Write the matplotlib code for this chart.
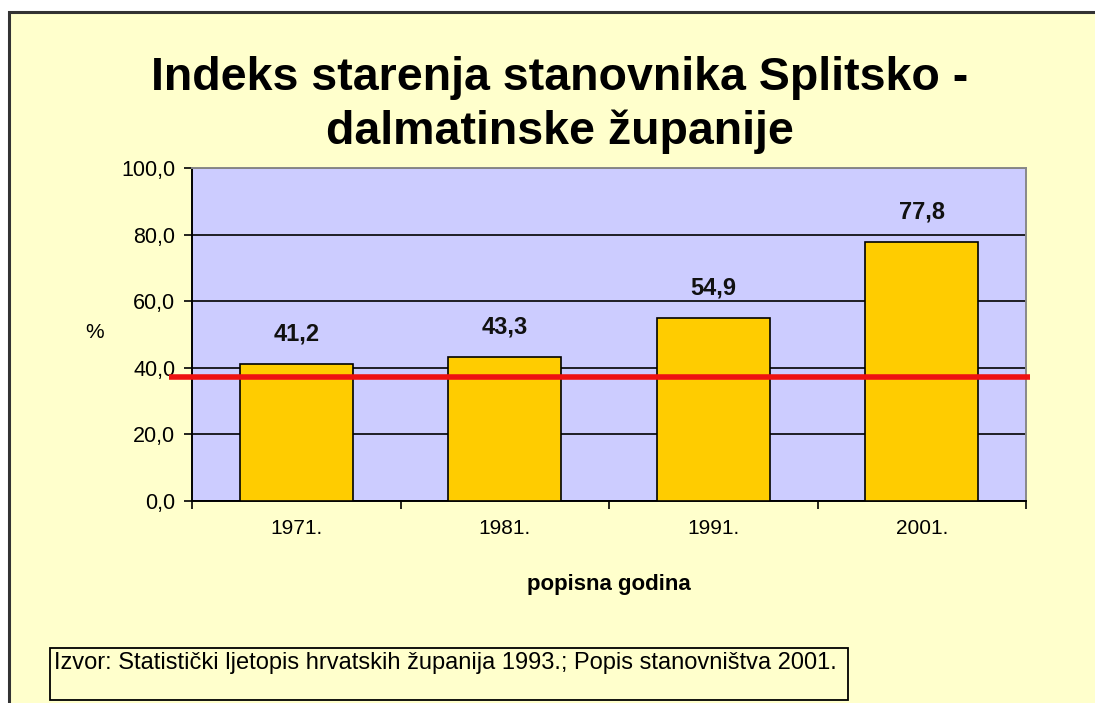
import matplotlib.pyplot as plt
from matplotlib.patches import Rectangle
from matplotlib.ticker import FixedLocator, FuncFormatter

# data
years = ["1971.", "1981.", "1991.", "2001."]
index_values = [41.2, 43.3, 54.9, 77.8]
reference_level = 37.2
y_ticks = [0, 20, 40, 60, 80, 100]

title = "Indeks starenja stanovnika Splitsko -\ndalmatinske županije"
source = "Izvor: Statistički ljetopis hrvatskih županija 1993.; Popis stanovništva 2001."

BG = "#FFFFCC"
PLOT_BG = "#CCCCFF"
BAR = "#FFCC00"

plt.rcParams["font.family"] = ["Liberation Sans", "DejaVu Sans"]

fig = plt.figure(figsize=(10.95, 7.03), dpi=100)
fig.patch.set_facecolor("white")

# frame of the chart area (only left/top edges visible in the original)
fig.patches.append(Rectangle((9 / 1095, -0.1), 1.2, 1.1 - 12 / 703, transform=fig.transFigure,
                             facecolor=BG, edgecolor="#333333", linewidth=2.2, zorder=-10))

ax = fig.add_axes([192 / 1095, 1 - 501 / 703, (1026 - 192) / 1095, (501 - 168) / 703])
ax.set_facecolor(PLOT_BG)

x = range(len(years))
bars = ax.bar(x, index_values, width=0.54, color=BAR, edgecolor="black", linewidth=1.2, zorder=3)

for xi, v in zip(x, index_values):
    ax.text(xi, v + 5.6, f"{v:.1f}".replace(".", ","), ha="center", va="bottom",
            fontsize=17, fontweight="bold", color="#111111", zorder=5)

ax.plot([-0.61, 3.52], [reference_level, reference_level], color="#EE1111",
        linewidth=4, clip_on=False, zorder=6, solid_capstyle="butt")

ax.set_xlim(-0.5, 3.5)
ax.set_ylim(0, 100)
ax.yaxis.set_major_locator(FixedLocator(y_ticks))
ax.yaxis.set_major_formatter(FuncFormatter(lambda v, p: f"{v:.1f}".replace(".", ",")))
ax.grid(axis="y", color="black", linewidth=1.2, zorder=1)
ax.set_axisbelow(True)

ax.set_xticks(list(x))
ax.set_xticklabels(years, fontsize=15)
ax.xaxis.set_minor_locator(FixedLocator([-0.5, 0.5, 1.5, 2.5, 3.5]))
ax.tick_params(axis="x", which="major", length=0, pad=13)
ax.tick_params(axis="x", which="minor", length=6, width=1.2, direction="out")
ax.tick_params(axis="y", length=6, width=1.2, direction="out", labelsize=15.5, pad=6)

for side in ("left", "bottom"):
    ax.spines[side].set_color("black")
    ax.spines[side].set_linewidth(1.4)
for side in ("right", "top"):
    ax.spines[side].set_color("#888888")
    ax.spines[side].set_linewidth(1.4)

ax.set_xlabel("popisna godina", fontsize=16, fontweight="bold", labelpad=26)
fig.text(95 / 1095, 1 - 333 / 703, "%", fontsize=15, ha="center", va="center")

fig.text(560 / 1095, 1 - 105 / 703, title, ha="center", va="center", fontsize=33.5,
         fontweight="bold", linespacing=1.25)

fig.text(54 / 1095, 1 - 663 / 703, source, ha="left", va="center", fontsize=17)
fig.patches.append(Rectangle((50 / 1095, 1 - 700 / 703), (848 - 50) / 1095, 52 / 703,
                             transform=fig.transFigure, facecolor="none",
                             edgecolor="black", linewidth=1.3, zorder=2))

fig.savefig("out.png", dpi=100, facecolor=fig.get_facecolor())
